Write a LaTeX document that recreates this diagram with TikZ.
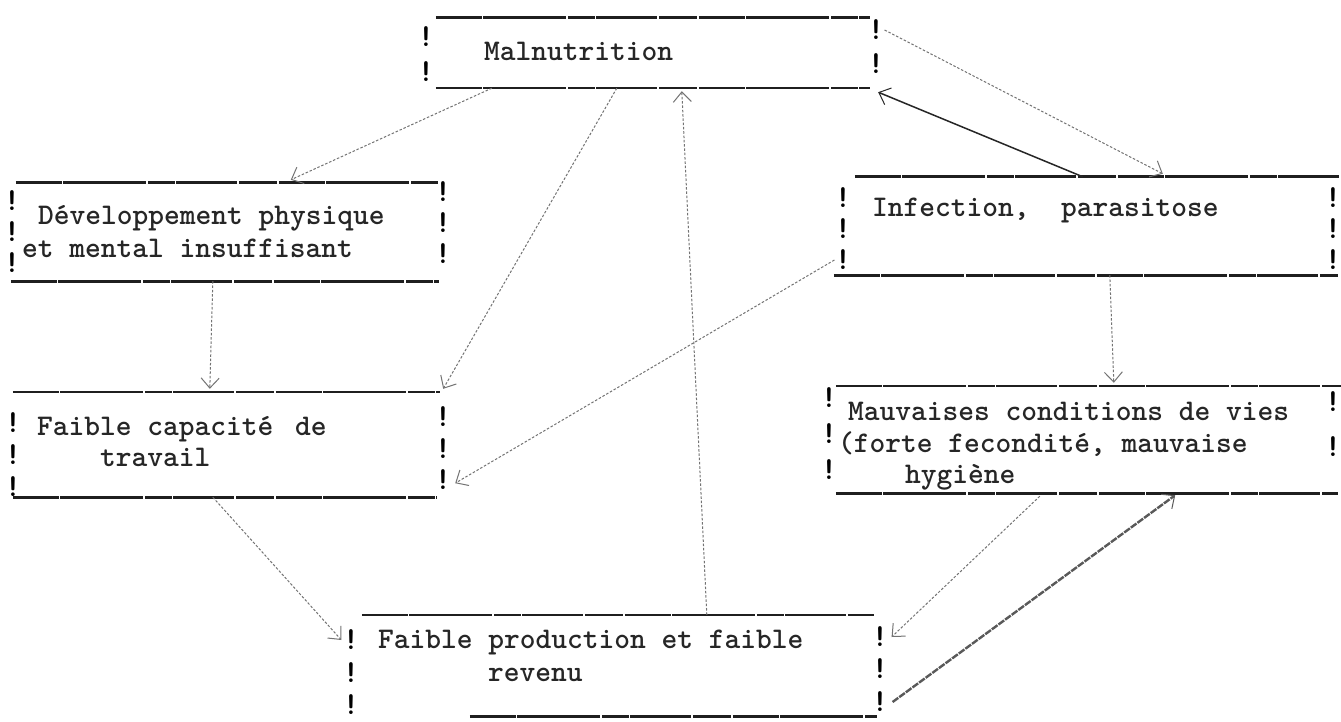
\documentclass[tikz,border=0pt]{standalone}
\usetikzlibrary{arrows.meta,calc}
\tikzset{
  tw/.style={font=\fontsize{30}{32}\selectfont\ttfamily\bfseries, inner sep=0pt, anchor=base west, text=black!85},
  bang/.style={font=\fontsize{32}{34}\selectfont\ttfamily\bfseries, inner sep=0pt, text=black},
  boxshape/.style={draw=none, inner sep=0pt, rectangle},
  hline/.style={line width=2.6pt, black!88, dash pattern=on 46pt off 1.5pt on 83pt off 2pt on 27pt off 1pt on 61pt off 2pt on 38pt off 1.5pt},
  tip/.style={-{Straight Barb[length=10pt,width=18pt,line width=1pt]}},
  conn/.style={tip, line width=1pt, black!55, dash pattern=on 2.5pt off 1.8pt},
  connsolid/.style={tip, line width=1.5pt, black!85},
  connthick/.style={tip, line width=2.4pt, black!65, dash pattern=on 7pt off 1.2pt},
}
\newcommand\tbox[5]{\node[boxshape, minimum width={(#4-#2)*1pt}, minimum height={(#5-#3)*1pt}] (#1) at ({(#2+#4)/2},{(#3+#5)/2}) {};}
\begin{document}
\begin{tikzpicture}[x=1pt,y=-1pt]
\useasboundingbox[fill=white] (0,0) rectangle (1341,722);

% boxes (invisible geometry)
\tbox{mal}{436}{18}{870}{88}
\tbox{dev}{16}{183}{439}{281}
\tbox{inf}{845}{177}{1341}{275}
\tbox{cap}{13}{392}{440}{497}
\tbox{mau}{836}{386}{1341}{493}
\tbox{prod}{362}{615}{874}{716}

% top and bottom typed lines
\draw[hline] (mal.north west) -- (mal.north east);
\draw[hline] (mal.south west) -- (mal.south east);
\draw[hline] (dev.north west) -- (dev.north east);
\draw[hline] ([xshift=-5pt]dev.south west) -- (dev.south east);
\draw[hline] ([xshift=10pt]inf.north west) -- (inf.north east);
\draw[hline] ([xshift=-11pt]inf.south west) -- ([xshift=-3pt]inf.south east);
\draw[hline] (cap.north west) -- (cap.north east);
\draw[hline] (cap.south west) -- ([xshift=-3pt]cap.south east);
\draw[hline] (mau.north west) -- (mau.north east);
\draw[hline] (mau.south west) -- ([xshift=-3pt]mau.south east);
\draw[hline] (prod.north west) -- (prod.north east);
\draw[hline] ([xshift=108pt]prod.south west) -- ([xshift=3pt]prod.south east);

% side marks
\foreach \n/\x/\y in {ml1/426/37, ml2/426/72, mr1/876/30, mr2/876/64,
  dl1/12/201, dl2/12/232, dl3/12/263, dr1/443/192, dr2/443/223, dr3/443/254,
  il1/843/198, il2/843/229, il3/843/260, ir1/1333/198, ir2/1333/229, ir3/1333/260,
  cl1/13/423, cl2/13/455, cl3/13/487, cr1/443/417, cr2/443/449, cr3/443/480,
  al1/829/398, al2/829/434, al3/829/470, ar1/1333/402, ar2/1333/447,
  pl1/351/640, pl2/351/673, pl3/351/705, pr1/880/637, pr2/880/669, pr3/880/702}
  \node[bang] (\n) at (\x,\y) {!};

% texts
\node[tw] (tmal) at (484,61) {Malnutrition};
\node[tw] (tdev1) at (38,225) {Développement physique};
\node[tw] (tdev2) at (22,258) {et mental insuffisant};
\node[tw] (tinf) at (872,217) {Infection,~ parasitose};
\node[tw] (tcap1) at (37,435) {Faible capacité\hspace{0.2em} de};
\node[tw] (tcap2) at (100,466) {travail};
\node[tw] (tmau1) at (848,420) {Mauvaises conditions de vies};
\node[tw] (tmau2) at (838,452) {(forte fecondité, mauvaise};
\node[tw] (tmau3) at (905,483) {hygiène};
\node[tw] (tprod1) at (378,648) {Faible production et faible};
\node[tw] (tprod2) at (488,681) {revenu};

% connectors
\draw[conn] ([xshift=56pt]mal.south west) -- ([xshift=275pt,yshift=3pt]dev.north west);
\draw[conn] ([xshift=181pt]mal.south west) -- ([xshift=3pt,yshift=3pt]cap.north east);
\draw[conn] ([xshift=345pt]prod.north west) -- ([xshift=246pt,yshift=-3pt]mal.south west);
\draw[conn] (mr1.east) -- ([xshift=318pt,yshift=3pt]inf.north west);
\draw[connsolid] ([xshift=238pt]inf.north west) -- ([xshift=8pt,yshift=-4pt]mal.south east);
\draw[conn] (il3.west) -- ([xshift=15pt,yshift=14pt]cap.south east);
\draw[conn] ([xshift=197pt]dev.south west) -- ([xshift=197pt,yshift=3pt]cap.north west);
\draw[conn] ([xshift=265pt]inf.south west) -- ([xshift=278pt,yshift=3pt]mau.north west);
\draw[conn] ([xshift=200pt]cap.south west) -- ([xshift=-1pt]pl1.west);
\draw[conn] ([xshift=204pt,yshift=-3pt]mau.south west) -- ([xshift=3pt]pr1.east);
\draw[connthick] ([xshift=4pt]pr3.east) -- ([xshift=-166pt,yshift=-2pt]mau.south east);
\end{tikzpicture}
\end{document}
